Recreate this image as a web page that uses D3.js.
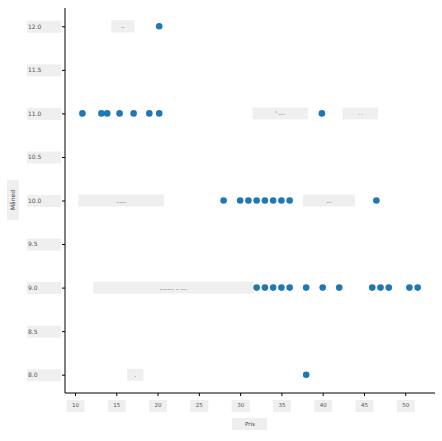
<html>
<head>
<script src="https://d3js.org/d3.v7.min.js"></script>
<style>
  body { margin: 0; background: #fff; }
  text { font-family: "DejaVu Sans", sans-serif; fill: #444; }
</style>
</head>
<body>
<svg id="chart" width="442" height="441"></svg>
<script>
const pris  = [20.2, 10.9, 13.2, 13.9, 15.4, 17.1, 19.0, 20.2, 39.9,
               28.0, 30.0, 31.0, 32.0, 33.0, 34.0, 35.0, 36.0, 46.5,
               32.0, 33.0, 34.0, 35.0, 36.0, 38.0, 40.0, 42.0, 46.0, 47.0, 48.0, 50.5, 51.5,
               38.0];
const maned = [12, 11, 11, 11, 11, 11, 11, 11, 11,
               10, 10, 10, 10, 10, 10, 10, 10, 10,
               9, 9, 9, 9, 9, 9, 9, 9, 9, 9, 9, 9, 9,
               8];
const xTicks = [10, 15, 20, 25, 30, 35, 40, 45, 50];
const yTicks = [8.0, 8.5, 9.0, 9.5, 10.0, 10.5, 11.0, 11.5, 12.0];
// faint label boxes seen in the plot area
const boxRow  = [12, 11, 11, 10, 10, 9, 8];
const boxFrom = [14.4, 31.5, 42.4, 10.4, 37.6, 12.2, 16.3];
const boxTo   = [17.2, 38.2, 46.7, 20.8, 43.9, 31.6, 18.3];
const boxText = ["..", "' ....", ". .", "......", "...", "......... .. ....", "."];

const svg = d3.select("#chart");
const margin = { top: 8, right: 7, bottom: 48, left: 65 };
const width = 442 - margin.left - margin.right;
const height = 441 - margin.top - margin.bottom;

const x = d3.scaleLinear().domain([8.79, 53.6]).range([0, width]);
const y = d3.scaleLinear().domain([7.79, 12.21]).range([height, 0]);

const g = svg.append("g").attr("transform", `translate(${margin.left},${margin.top})`);

// label boxes
const boxes = g.selectAll(".box").data(boxRow.map((r, i) => ({ r, a: boxFrom[i], b: boxTo[i], t: boxText[i] })))
  .enter().append("g");
boxes.append("rect")
  .attr("x", d => x(d.a)).attr("width", d => x(d.b) - x(d.a))
  .attr("y", d => y(d.r) - 6).attr("height", 12)
  .attr("fill", "#efefef");
boxes.append("text")
  .attr("x", d => (x(d.a) + x(d.b)) / 2).attr("y", d => y(d.r) + 2)
  .attr("text-anchor", "middle").style("font-size", "5px").style("fill", "#000")
  .text(d => d.t);

// y axis
const yAxis = g.append("g").call(d3.axisLeft(y).tickValues(yTicks).tickFormat(d3.format(".1f")).tickSize(3));
yAxis.select(".domain").attr("d", `M0,0V${height}`).attr("stroke", "#000");
yAxis.selectAll(".tick text").each(function () {
  const t = d3.select(this.parentNode);
  t.insert("rect", "text").attr("x", -38).attr("y", -6).attr("width", 34).attr("height", 12).attr("fill", "#efefef");
});
yAxis.selectAll(".tick text").attr("x", -37).attr("text-anchor", "start").style("font-size", "6px").style("fill", "#555");

// x axis
const xAxis = g.append("g").attr("transform", `translate(0,${height})`)
  .call(d3.axisBottom(x).tickValues(xTicks).tickSize(3));
xAxis.select(".domain").attr("d", `M0,0H${width}`).attr("stroke", "#000");
xAxis.selectAll(".tick").insert("rect", "text").attr("x", -9).attr("y", 7).attr("width", 18).attr("height", 12).attr("fill", "#efefef");
xAxis.selectAll(".tick text").attr("y", 10).style("font-size", "5.5px").style("fill", "#555");

// axis titles
g.append("rect").attr("x", 232 - margin.left).attr("y", height + 25).attr("width", 35).attr("height", 12).attr("fill", "#efefef");
g.append("text").attr("x", 250 - margin.left).attr("y", height + 33).attr("text-anchor", "middle").style("font-size", "5.5px").text("Pris");
svg.append("rect").attr("x", 7).attr("y", 180).attr("width", 12).attr("height", 40).attr("fill", "#efefef");
svg.append("text").attr("transform", "translate(15,200) rotate(-90)").attr("text-anchor", "middle").style("font-size", "6px").text("Måned");

// points
g.selectAll("circle").data(pris.map((p, i) => ({ p, m: maned[i] })))
  .enter().append("circle")
  .attr("cx", d => x(d.p)).attr("cy", d => y(d.m)).attr("r", 3.3)
  .attr("fill", "#1f77b4");
</script>
</body>
</html>
